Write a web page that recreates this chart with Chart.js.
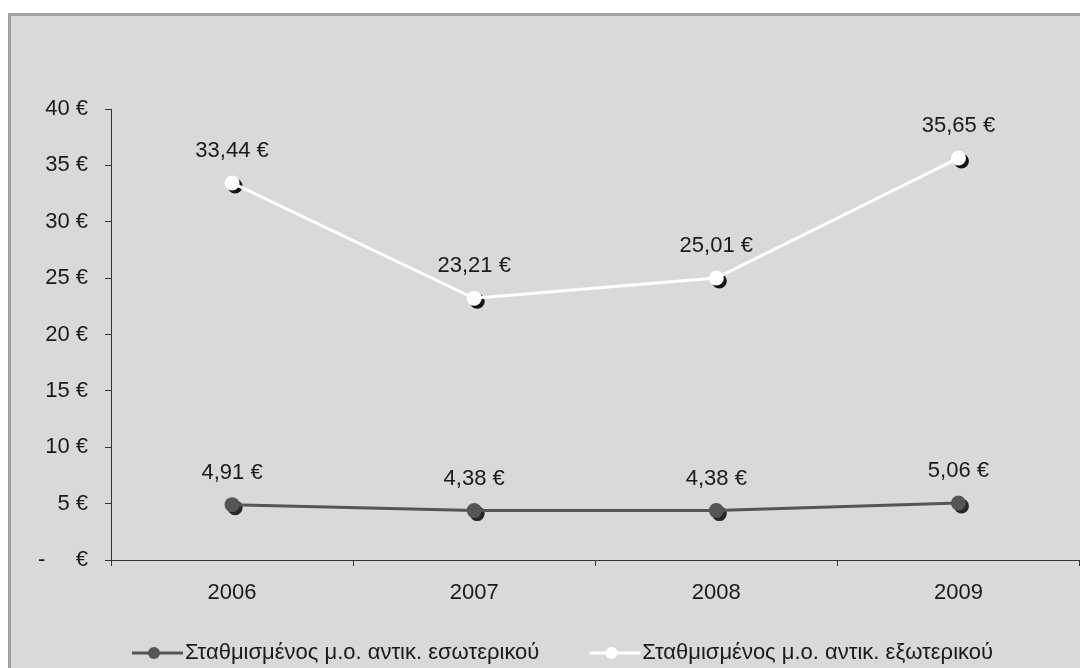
<!DOCTYPE html>
<html>
<head>
<meta charset="utf-8">
<title>Σταθμισμένος μ.ο. αντικειμένου</title>
<script src="https://cdn.jsdelivr.net/npm/chart.js@4"></script>
<style>
  html, body { margin: 0; padding: 0; background: #ffffff; overflow: hidden; width: 1080px; height: 668px; }
  /* gray frame around the chart, runs past the right and bottom edges */
  #frame {
    position: absolute; left: 8px; top: 13px;
    width: 1100px; height: 700px;
    border: 3px solid #a0a0a0;
    background: #d9d9d9;
  }
  /* canvas is a bit wider than the window: chart.js keeps room for the
     marker radius on the right, and the plot has to reach the edge */
  #chart { position: absolute; left: 0; top: 0; }
</style>
</head>
<body>
<div id="frame"></div>
<canvas id="chart" width="1087" height="668"></canvas>
<script>
'use strict';

// chart data
const years = ['2006', '2007', '2008', '2009']
const domesticAvg = [4.91, 4.38, 4.38, 5.06]
const foreignAvg = [33.44, 23.21, 25.01, 35.65]
const seriesNames = ['Σταθμισμένος μ.ο. αντικ. εσωτερικού', 'Σταθμισμένος μ.ο. αντικ. εξωτερικού']
const seriesColors = ['#555555', '#ffffff']
const shadowColors = ['#262626', '#141414']
const yMin = 0
const yMax = 40
const yStep = 5

const FONT = '"Liberation Sans", Arial, sans-serif'
const FONT_SIZE = 22
const TEXT = '#1a1a1a'

/**
 * Formats a value the greek way: 33,44 €
 */
const euro = (v) => v.toFixed(2).replace('.', ',') + ' €'

// dark offset shadow under every marker, drawn before the dataset itself
const markerShadow = {
  id: 'markerShadow',
  beforeDatasetDraw(chart, args) {
    const ctx = chart.ctx
    ctx.save()
    ctx.fillStyle = shadowColors[args.index]
    args.meta.data.forEach(pt => {
      ctx.beginPath()
      ctx.arc(pt.x + 3, pt.y + 3, 7.5, 0, Math.PI * 2)
      ctx.fill()
    })
    ctx.restore()
  }
}

// value labels above the points
const valueLabels = {
  id: 'valueLabels',
  afterDatasetsDraw(chart) {
    const ctx = chart.ctx
    ctx.save()
    ctx.font = FONT_SIZE + 'px ' + FONT
    ctx.fillStyle = TEXT
    ctx.textAlign = 'center'
    ctx.textBaseline = 'alphabetic'
    chart.data.datasets.forEach((ds, i) => {
      chart.getDatasetMeta(i).data.forEach((pt, j) => {
        ctx.fillText(euro(ds.data[j]), pt.x, pt.y - 26)
      })
    })
    ctx.restore()
  }
}

// legend with a line-and-marker sample for each series
const lineLegend = {
  id: 'lineLegend',
  afterDraw(chart) {
    const ctx = chart.ctx
    const y = 653
    let x = 132
    ctx.save()
    ctx.font = FONT_SIZE + 'px ' + FONT
    ctx.textBaseline = 'middle'
    chart.data.datasets.forEach((ds, i) => {
      ctx.strokeStyle = seriesColors[i]
      ctx.lineWidth = 3
      ctx.beginPath()
      ctx.moveTo(x, y)
      ctx.lineTo(x + 51, y)
      ctx.stroke()
      ctx.fillStyle = seriesColors[i]
      ctx.beginPath()
      ctx.arc(x + 22, y, 6, 0, Math.PI * 2)
      ctx.fill()
      ctx.fillStyle = TEXT
      ctx.textAlign = 'left'
      ctx.fillText(ds.label, x + 53, y)
      x += 53 + ctx.measureText(ds.label).width + 50
    })
    ctx.restore()
  }
}

const makeSeries = (label, data, i) => ({
  label: label,
  data: data,
  borderColor: seriesColors[i],
  backgroundColor: seriesColors[i],
  borderWidth: 3,
  pointRadius: 7.5,
  pointBorderWidth: 0,
  pointBackgroundColor: seriesColors[i],
  tension: 0
})

const config = {
  type: 'line',
  data: {
    labels: years,
    datasets: [
      makeSeries(seriesNames[0], domesticAvg, 0),
      makeSeries(seriesNames[1], foreignAvg, 1)
    ]
  },
  options: {
    responsive: false,
    devicePixelRatio: 1,
    animation: false,
    layout: { padding: { top: 109, right: 1, bottom: 58, left: 0 } },
    plugins: {
      legend: { display: false },
      tooltip: { enabled: false }
    },
    scales: {
      x: {
        offset: true,
        grid: {
          offset: true,
          drawOnChartArea: false,
          drawTicks: true,
          tickLength: 6,
          color: '#333333'
        },
        border: { display: true, color: '#333333', width: 1 },
        ticks: { color: TEXT, font: { family: FONT, size: FONT_SIZE }, padding: 14, maxRotation: 0 },
        afterFit: (scale) => {
          scale.height = 50
          scale.paddingLeft = 0
          scale.paddingRight = 0
        }
      },
      y: {
        min: yMin,
        max: yMax,
        grid: {
          drawOnChartArea: false,
          drawTicks: true,
          tickLength: 6,
          color: '#333333'
        },
        border: { display: true, color: '#333333', width: 1 },
        ticks: {
          stepSize: yStep,
          color: TEXT,
          font: { family: FONT, size: FONT_SIZE },
          padding: 17,
          callback: (v) => v === 0 ? '-     €' : v + ' €'
        },
        afterFit: (scale) => {
          scale.width = 111
          scale.paddingTop = 0
          scale.paddingBottom = 0
        }
      }
    }
  },
  plugins: [markerShadow, valueLabels, lineLegend]
}

document.addEventListener('DOMContentLoaded', () => {
  new Chart(document.getElementById('chart'), config)
})
</script>
</body>
</html>
